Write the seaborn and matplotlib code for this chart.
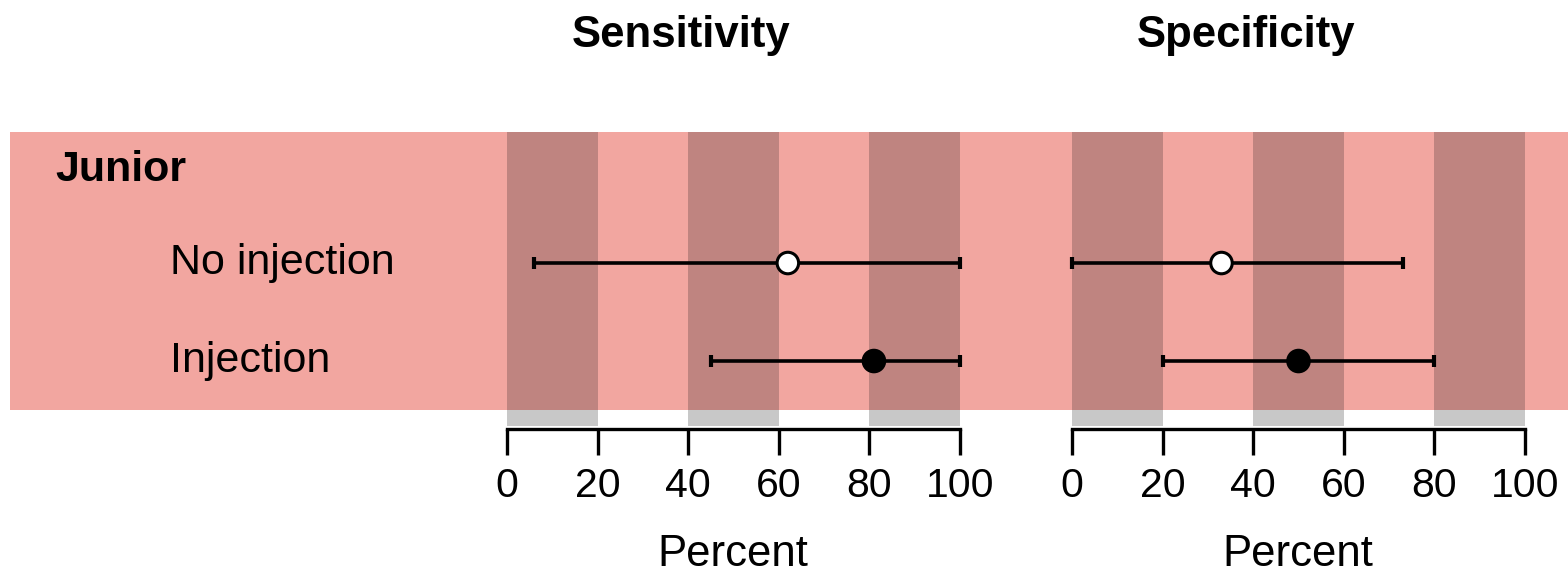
import numpy as np
import pandas as pd
import seaborn as sns
import matplotlib.pyplot as plt
from matplotlib.patches import Rectangle
from matplotlib.transforms import blended_transform_factory

# values (percent)
rows = ["No injection", "Injection"]
group_label = "Junior"
sens_est = [62, 81]
sens_lo = [6, 45]
sens_hi = [100, 100]
spec_est = [33, 50]
spec_lo = [0, 20]
spec_hi = [73, 80]
x_ticks = [0, 20, 40, 60, 80, 100]

PINK = "#F2A6A0"
DARK = "#BF8480"
LIGHT = "#C8C8C8"

sns.set_theme(style="white")
plt.rcParams['font.family'] = ['Liberation Sans', 'DejaVu Sans']
plt.rcParams['text.color'] = 'black'
plt.rcParams['xtick.color'] = 'black'

W, H = 1568, 581
fig = plt.figure(figsize=(W / 100, H / 100), dpi=100)


def fx(px):
    return px / W


def fy(py):
    return 1 - py / H


# pink band behind the whole row block
fig.patches.append(Rectangle((fx(10), fy(410)), fx(W) - fx(10), fy(132) - fy(410),
                             transform=fig.transFigure, facecolor=PINK,
                             edgecolor="none", zorder=-10))

panels = [
    ("Sensitivity", 507, sens_est, sens_lo, sens_hi),
    ("Specificity", 1072, spec_est, spec_lo, spec_hi),
]

ax_bottom = fy(426)
ax_height = fy(132) - fy(426)
split = (426 - 410) / 294

for i, (title, left, est, lo, hi) in enumerate(panels):
    ax = fig.add_axes([fx(left), ax_bottom, fx(453), ax_height])
    ax.set_facecolor("none")
    ax.set_zorder(1)

    for b in [0, 40, 80]:
        ax.axvspan(b, b + 20, ymin=split, ymax=1, color=DARK, lw=0, zorder=1)
        ax.axvspan(b, b + 20, ymin=0, ymax=split, color=LIGHT, lw=0, zorder=1)

    df = pd.DataFrame({"row": rows, "est": est, "lo": lo, "hi": hi})
    ypos = np.arange(len(rows))
    ax.errorbar(df["est"], ypos,
                xerr=[df["est"] - df["lo"], df["hi"] - df["est"]],
                fmt="none", ecolor="black", elinewidth=2.6, capsize=4,
                capthick=3, clip_on=False, zorder=3)
    sns.scatterplot(data=df, x="est", y=ypos, hue="row",
                    palette={"No injection": "white", "Injection": "black"},
                    edgecolor="black", linewidth=2.2, s=240, legend=False,
                    ax=ax, zorder=4, clip_on=False)

    ax.set_xlim(0, 100)
    ax.set_ylim(1.663, -1.337)
    ax.set_yticks([])
    ax.set_xlabel("")
    ax.set_ylabel("")
    sns.despine(ax=ax, left=True)
    ax.spines["bottom"].set_position(("outward", 2.2))
    ax.spines["bottom"].set_bounds(0, 100)
    ax.spines["bottom"].set_linewidth(2.4)
    ax.spines["bottom"].set_color("black")
    ax.set_xticks(x_ticks)
    ax.tick_params(axis="x", direction="out", length=19, width=2.4,
                   color="black", labelcolor="black", labelsize=29.5, pad=8,
                   bottom=True)

    fig.text(fx(left + 174), fy(35), title, ha="center", va="center",
             fontsize=31.5, fontweight="bold")
    fig.text(fx(left + 226), fy(555), "Percent", ha="center", va="center",
             fontsize=31.5)

    if i == 0:
        tr = blended_transform_factory(fig.transFigure, ax.transData)
        ax.text(fx(55), -0.95, group_label, transform=tr, ha="left",
                va="center", fontsize=31, fontweight="bold")
        for k, r in enumerate(rows):
            ax.text(fx(170), k, r, transform=tr, ha="left", va="center",
                    fontsize=31)

fig.savefig("out.png", dpi=100)
